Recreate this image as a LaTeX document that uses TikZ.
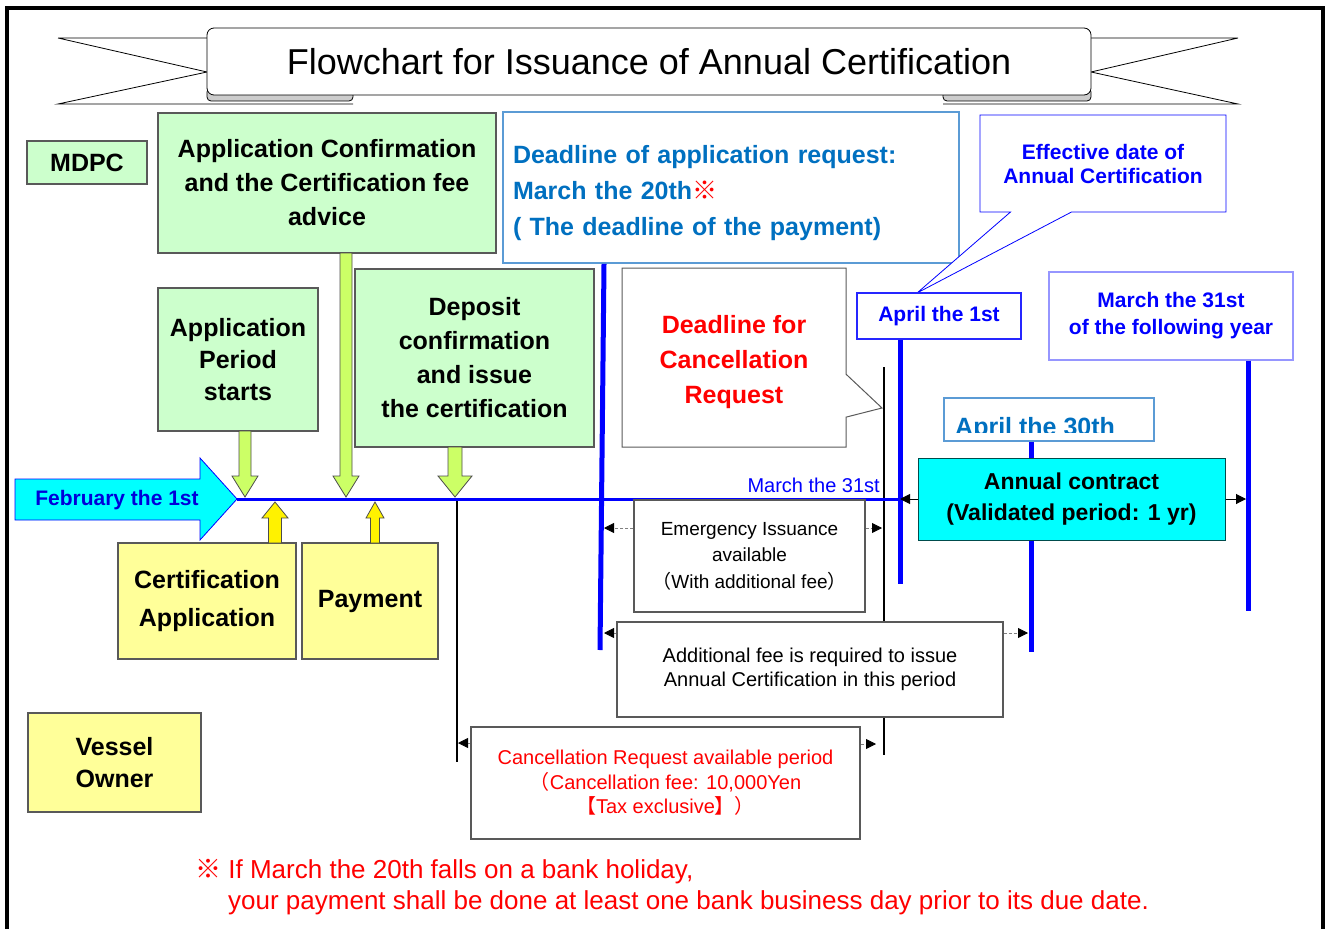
\documentclass[tikz,border=0pt]{standalone}
\usepackage{fontspec}
\setmainfont{Liberation Sans}
\newfontfamily\cjk{Noto Sans CJK JP}
\usetikzlibrary{arrows.meta,shapes.callouts}
\definecolor{ltgreen}{RGB}{204,255,204}
\definecolor{limegreen}{RGB}{204,255,102}
\definecolor{ltyellow}{RGB}{255,255,153}
\definecolor{aqua}{RGB}{0,255,255}
\definecolor{deepblue}{RGB}{0,112,192}
\definecolor{skyline}{RGB}{91,155,213}
\definecolor{paleblue}{RGB}{150,150,255}
\tikzset{
  greenbox/.style={draw=gray!70!black, fill=ltgreen, line width=1.2pt, align=center, inner sep=0pt,
    font=\bfseries\fontsize{25}{34}\selectfont},
  yellowbox/.style={greenbox, fill=ltyellow},
  notebox/.style={draw=gray!70!black, fill=white, line width=1.2pt, align=center, inner sep=0pt,
    font=\fontsize{20}{24.5}\selectfont},
  datebox/.style={draw=blue!85, fill=white, text=blue, line width=1.2pt, align=center, inner sep=0pt,
    font=\bfseries\fontsize{21}{26}\selectfont},
  timeline/.style={blue, line width=5pt},
  stopline/.style={black, line width=2.8pt},
  periodarrow/.style={gray, densely dashed, line width=0.8pt, -{Triangle[length=10pt,width=10pt,color=black]}},
  contractarrow/.style={black, line width=1pt, -{Triangle[length=10pt,width=10pt]}},
}
\newcommand{\downblock}[5]{% x, top, tip, half shaft, half head
  \draw[gray!60!black, line width=0.8pt, fill=limegreen] (#1-#4,#2) -- (#1-#4,#3-21) -- (#1-#5,#3-21) -- (#1,#3)
    -- (#1+#5,#3-21) -- (#1+#4,#3-21) -- (#1+#4,#2) -- cycle;}
\newcommand{\upblock}[5]{% x, bottom, tip, half shaft, half head
  \draw[gray!60!black, line width=0.8pt, fill=yellow] (#1-#4,#2) -- (#1-#4,#3+16) -- (#1-#5,#3+16) -- (#1,#3)
    -- (#1+#5,#3+16) -- (#1+#4,#3+16) -- (#1+#4,#2) -- cycle;}
\begin{document}
\begin{tikzpicture}[x=1pt,y=-1pt]
  \useasboundingbox (0,0) rectangle (1329,928);
  \draw[line width=3.5pt] (7,940) -- (7,8) -- (1323,8) -- (1323,940);

  % title ribbon
  \draw[line width=0.8pt] (58,38) -- (207,38) (58,38) -- (207,72) -- (58,104) -- (353,104);
  \draw[line width=0.8pt] (1238,38) -- (1091,38) (1238,38) -- (1091,72) -- (1238,104) -- (943,104);
  \draw[line width=0.8pt, fill=gray!40, rounded corners=4pt] (207,88) rectangle (353,101);
  \draw[line width=0.8pt, fill=gray!40, rounded corners=4pt] (943,88) rectangle (1091,101);
  \node[draw, fill=white, line width=0.8pt, rounded corners=7pt, minimum width=884pt, minimum height=67pt,
    font=\fontsize{36}{36}\selectfont] (title) at (649,61.5) {Flowchart for Issuance of Annual Certification};

  % MDPC side
  \node[greenbox, minimum width=120pt, minimum height=43pt] (mdpc) at (87,162.5) {MDPC};
  \node[greenbox, minimum width=338pt, minimum height=140pt] (appconf) at (327,183)
    {Application Confirmation\\and the Certification fee\\advice};
  \node[greenbox, minimum width=160pt, minimum height=143pt, font=\bfseries\fontsize{25}{32}\selectfont] (appstart)
    at (238,359.5) {Application\\Period\\starts};
  \node[greenbox, minimum width=239pt, minimum height=178pt] (deposit) at (474.5,358)
    {Deposit\\confirmation\\and issue\\the certification};

  \node[draw=skyline, line width=1.8pt, fill=white, minimum width=456pt, minimum height=151pt, text width=436pt,
    align=left, inner sep=10pt, text=deepblue, font=\bfseries\fontsize{25}{36}\selectfont] (deadapp) at (731,187.5)
    {\rule{0pt}{30pt}Deadline of application request:\\March the 20th{\cjk\color{red}※}\\( The deadline of the payment)};

  \node[rectangle callout, callout absolute pointer={(882,408)}, callout pointer width=43pt, draw=gray!70!black,
    line width=1pt, minimum width=224pt, minimum height=179pt, inner sep=0pt, align=center, text=red,
    font=\bfseries\fontsize{25}{35}\selectfont] (canceldead) at (734,357.5)
    {\rule{0pt}{28pt}Deadline for\\Cancellation\\Request};

  \node[rectangle callout, callout absolute pointer={(917,293)}, callout pointer width=61pt, draw=blue,
    line width=0.8pt, fill=white, minimum width=246pt, minimum height=97pt, inner sep=0pt, align=center, text=blue,
    font=\bfseries\fontsize{21}{24}\selectfont] (effective) at (1103,163.5) {Effective date of\\Annual Certification};

  \node[datebox, minimum width=164pt, minimum height=46pt] (apr1) at (939,316) {April the 1st};
  \node[datebox, draw=paleblue, minimum width=244pt, minimum height=88pt, font=\bfseries\fontsize{21}{27}\selectfont]
    (mar31fy) at (1171,316) {March the 31st\\of the following year};

  \node[draw=skyline, line width=1.8pt, fill=white, minimum width=210pt, minimum height=43pt] (apr30) at (1049,419.5) {};
  \begin{scope}
    \clip (944,398) rectangle (1154,432);
    \node[anchor=base west, inner sep=0pt, text=deepblue, font=\bfseries\fontsize{25}{25}\selectfont] at (955,435)
      {April the 30th};
  \end{scope}

  % vertical marks
  \draw[timeline] (deadapp.south -| 604,0) -- (600,650);
  \draw[stopline] (884,367) -- (884,755);
  \draw[timeline] (apr1.south -| 900,0) -- (900,584);
  \draw[timeline] (apr30.south -| 1031,0) -- (1031,652);
  \draw[timeline] (mar31fy.south -| 1248,0) -- (1248,611);
  \draw[black, line width=2.2pt] (457,499) -- (457,762);

  % February arrow and time line
  \draw[blue, line width=0.8pt, fill=aqua] (15,479) -- (200,479) -- (200,458) -- (237,499) -- (200,540) -- (200,520)
    -- (15,520) -- cycle;
  \node[text=blue!85!black, font=\bfseries\fontsize{21}{21}\selectfont] (feb) at (117,500) {February the 1st};
  \coordinate (febtip) at (237,499);
  \coordinate (mar31) at (900,499);
  \draw[blue, line width=3pt] (febtip) -- (mar31);
  \node[anchor=base east, inner sep=0pt, text=blue, font=\fontsize{20}{20}\selectfont] at (880,492) {March the 31st};

  \downblock{245}{431}{497}{6}{13}
  \downblock{346}{253}{497}{6}{13}
  \downblock{455}{447}{497}{7}{17}

  \node[draw=teal!60!black, fill=aqua, line width=1pt, minimum width=307pt, minimum height=82pt, inner sep=0pt,
    align=center, font=\bfseries\fontsize{23}{31}\selectfont] (annual) at (1071.5,499)
    {Annual contract\\(Validated period: 1 yr)};
  \draw[contractarrow] (annual.west) -- (mar31);
  \draw[contractarrow] (annual.east) -- (1246,499);

  % Vessel owner side
  \node[yellowbox, minimum width=178pt, minimum height=116pt, font=\bfseries\fontsize{25}{38}\selectfont] (certapp)
    at (207,601) {Certification\\Application};
  \node[yellowbox, minimum width=136pt, minimum height=116pt] (payment) at (370,601) {Payment};
  \node[yellowbox, minimum width=173pt, minimum height=99pt, font=\bfseries\fontsize{25}{32}\selectfont] (vessel)
    at (114.5,762.5) {Vessel\\Owner};
  \upblock{275}{543}{502}{6.5}{13}
  \upblock{375}{543}{502}{4.5}{9}

  % periods
  \node[notebox, minimum width=231pt, minimum height=112pt, font=\fontsize{19}{26.5}\selectfont] (emerg)
    at (749.5,556) {Emergency Issuance\\available\\{\cjk（}With additional fee{\cjk）}};
  \draw[periodarrow] (emerg.west |- 0,528) -- (604,528);
  \draw[periodarrow] (emerg.east |- 0,528) -- (882,528);

  \node[notebox, minimum width=386pt, minimum height=95pt] (addfee) at (810,669.5)
    {Additional fee is required to issue\\Annual Certification in this period};
  \draw[periodarrow] (addfee.west |- 0,633) -- (604,633);
  \draw[periodarrow] (addfee.east |- 0,633) -- (1028,633);

  \node[notebox, text=red, minimum width=389pt, minimum height=112pt] (cancper) at (665.5,783)
    {Cancellation Request available period\\{\cjk（}Cancellation fee: 10,000Yen\\{\cjk【}Tax exclusive{\cjk】）}};
  \draw[periodarrow] (cancper.west |- 0,743) -- (458,743);
  \draw[periodarrow] (cancper.east |- 0,744) -- (876,744);

  \node[anchor=north west, inner sep=0pt, align=left, text=red, font=\fontsize{26}{31}\selectfont] (note) at (195,859)
    {{\cjk ※} If March the 20th falls on a bank holiday,\\\hspace*{33pt}your payment shall be done at least one bank business day prior to its due date.};
\end{tikzpicture}
\end{document}
